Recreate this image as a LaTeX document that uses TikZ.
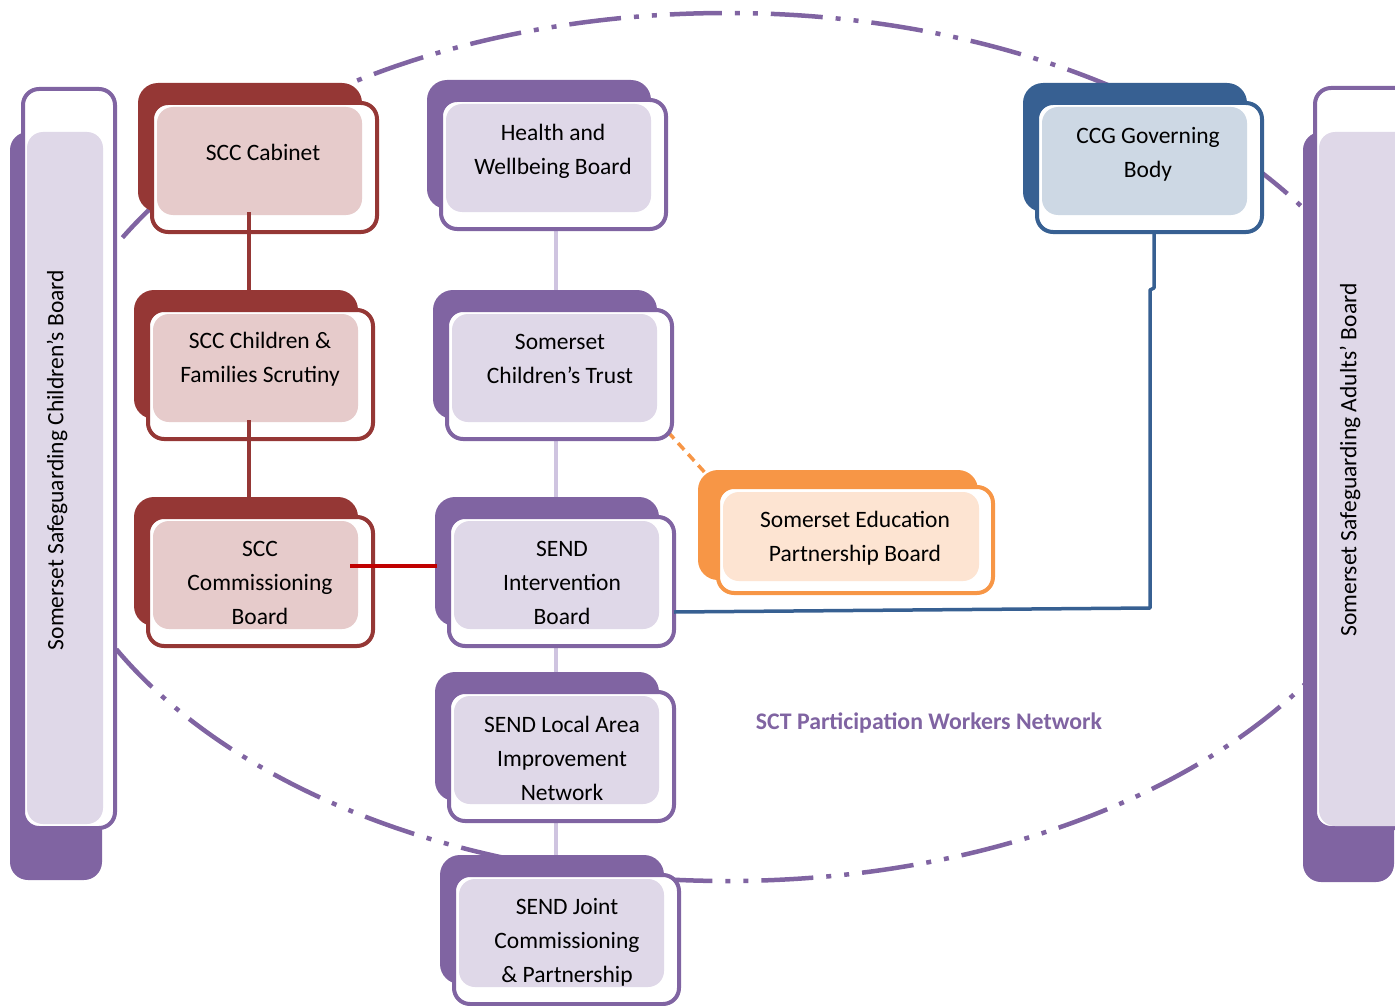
\documentclass[tikz,border=0pt]{standalone}
\usepackage{fontspec}
\setmainfont{Carlito}
\definecolor{rdark}{HTML}{953735}
\definecolor{rfill}{HTML}{E6CBCB}
\definecolor{pdark}{HTML}{8064A2}
\definecolor{pfill}{HTML}{DFD8E8}
\definecolor{plight}{HTML}{CFC4E0}
\definecolor{bdark}{HTML}{376092}
\definecolor{bfill}{HTML}{CDD8E4}
\definecolor{odark}{HTML}{F79646}
\definecolor{ofill}{HTML}{FDE4D2}
\definecolor{redline}{HTML}{C00000}
\newcommand\orgbox[4]{%
  \begin{scope}[shift={(#1,#2)}]
    \fill[#3, rounded corners=20pt] (0,0) rectangle (224,129);
    \draw[#3, line width=4pt, rounded corners=16pt, fill=white] (14,20) rectangle (239,149);
    \fill[#4, rounded corners=16pt] (19,24) rectangle (224,132);
  \end{scope}}
\begin{document}
\begin{tikzpicture}[x=1pt,y=-1pt,line join=round,
  lbl/.style={align=center, font=\fontsize{23.5}{34}\selectfont, text=black, inner sep=0pt},
  side/.style={lbl, rotate=90},
  vlink/.style={line width=3.5pt},
  ellipsestyle/.style={pdark, line width=4.5pt, dash pattern=on 52pt off 13pt on 5pt off 13pt on 5pt off 13pt}]
\useasboundingbox (0,0) rectangle (1395,1006);
\clip (0,0) rectangle (1395,1006);

% dash-dot ellipse
\draw[ellipsestyle] (727,447) ellipse [x radius=690, y radius=434];

% named connector ends
\coordinate (hwS) at (556,230);
\coordinate (ctN) at (556,292);
\coordinate (ctS) at (556,438);
\coordinate (siN) at (556,499);
\coordinate (siS) at (556,645);
\coordinate (laN) at (556,674);
\coordinate (laS) at (556,820);
\coordinate (jcN) at (556,857);
\coordinate (ctE) at (668,432);
\coordinate (epW) at (708,476);

% light purple column links
\draw[plight, vlink] (hwS) -- (ctN);
\draw[plight, vlink] (ctS) -- (siN);
\draw[plight, vlink] (siS) -- (laN);
\draw[plight, vlink] (laS) -- (jcN);
% orange dashed link
\draw[odark, line width=3.5pt, dash pattern=on 9pt off 6pt] (ctE) -- (epW);

% side bars
\fill[pdark, rounded corners=18pt] (10,132) rectangle (102,880);
\draw[pdark, line width=4pt, rounded corners=16pt, fill=white] (23,89) rectangle (115,828);
\fill[pfill, rounded corners=16pt] (27,132) rectangle (103,824);
\node[side] (lscb) at (57,460) {Somerset Safeguarding Children’s Board};

\fill[pdark, rounded corners=18pt] (1303,132) rectangle (1394,882);
\draw[pdark, line width=4pt, rounded corners=16pt, fill=white] (1315,88) rectangle (1440,828);
\fill[pfill, rounded corners=16pt] (1319,132) rectangle (1440,826);
\node[side] (ssab) at (1350,460) {Somerset Safeguarding Adults’ Board};

% boxes
\orgbox{138}{83}{rdark}{rfill}
\node[lbl] (cab) at (263,152) {SCC Cabinet};
\orgbox{134}{290}{rdark}{rfill}
\node[lbl] (scr) at (260,359) {SCC Children \&\\Families Scrutiny};
\orgbox{134}{497}{rdark}{rfill}
\node[lbl] (com) at (260,583) {SCC\\Commissioning\\Board};

\orgbox{427}{80}{pdark}{pfill}
\node[lbl] (hwb) at (553,151) {Health and\\Wellbeing Board};
\orgbox{433}{290}{pdark}{pfill}
\node[lbl] (sct) at (560,359) {Somerset\\Children’s Trust};
\orgbox{435}{497}{pdark}{pfill}
\node[lbl] (sib) at (562,583) {SEND\\Intervention\\Board};
\orgbox{435}{672}{pdark}{pfill}
\node[lbl] (lai) at (562,758) {SEND Local Area\\Improvement\\Network};
\orgbox{440}{855}{pdark}{pfill}
\begin{scope}
\clip (459,878) rectangle (665,987);
\node[lbl] (jcp) at (567,942) {SEND Joint\\Commissioning\\\& Partnership};
\end{scope}

\orgbox{1023}{83}{bdark}{bfill}
\node[lbl] (ccg) at (1148,154) {CCG Governing\\Body};

% education partnership board
\fill[odark, rounded corners=20pt] (698,470) rectangle (978,580);
\draw[odark, line width=4pt, rounded corners=16pt, fill=white] (718,487) rectangle (993,593);
\fill[ofill, rounded corners=16pt] (723,492) rectangle (979,581);
\node[lbl] (sepb) at (855,538) {Somerset Education\\Partnership Board};

% red links
\coordinate (cabS) at (249,212);
\coordinate (scrN) at (249,292);
\coordinate (scrS) at (249,420);
\coordinate (comN) at (249,499);
\coordinate (comE) at (350,566);
\coordinate (sibW) at (437,566);
\draw[rdark, vlink] (cabS) -- (scrN);
\draw[rdark, vlink] (scrS) -- (comN);
\draw[redline, vlink] (comE) -- (sibW);

% blue link
\coordinate (sibE) at (674,612);
\coordinate (ccgS) at (1154,232);
\draw[bdark, vlink] (sibE) -- (1150,608) -- (1150,290) -- (1154,288) -- (ccgS);

\node[font=\fontsize{23.8}{28}\selectfont\bfseries, text=pdark] (sct-net) at (929,723) {SCT Participation Workers Network};
\end{tikzpicture}
\end{document}
